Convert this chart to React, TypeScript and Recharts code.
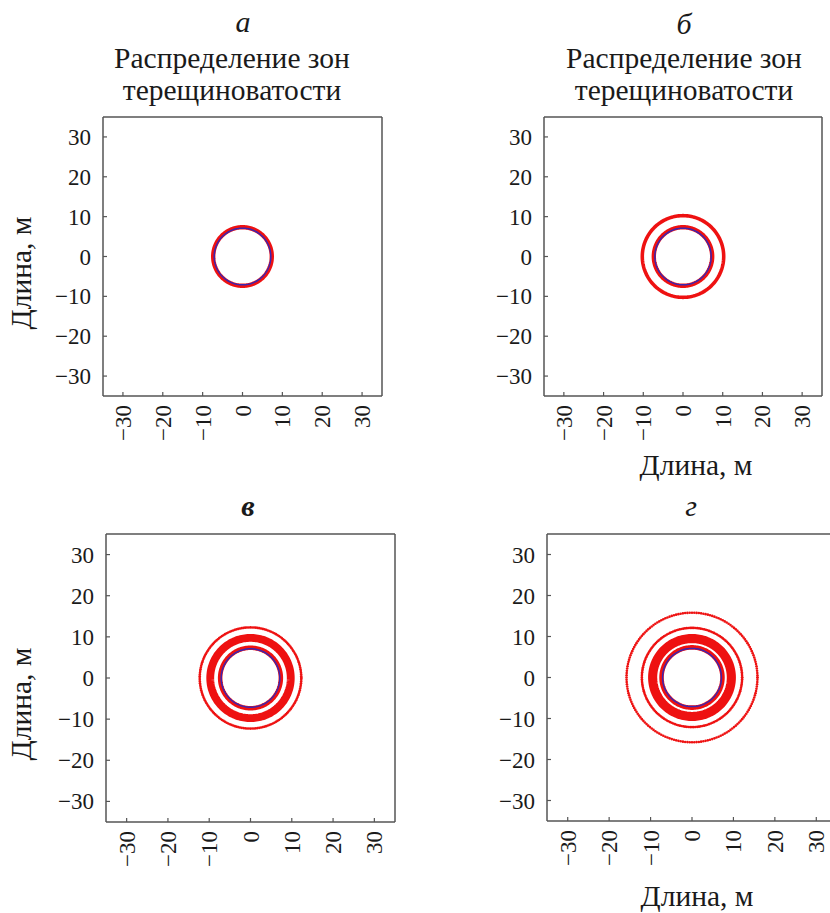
import React from 'react'
import { ScatterChart, Scatter, XAxis, YAxis } from 'recharts'

// axis layout (metres)
const axisTicks = [-30, -20, -10, 0, 10, 20, 30]
const axisMin = -35
const axisMax = 35

// fracture zones: inner / outer radius, m
const zoneInnerA = [6.8]
const zoneOuterA = [7.9]
const zoneInnerB = [6.8, 9.8]
const zoneOuterB = [7.9, 10.7]
const zoneInnerC = [6.8, 8.8]
const zoneOuterC = [7.9, 10.7]
const zoneInnerD = [6.8, 8.4]
const zoneOuterD = [7.9, 10.6]

// thin (single dotted) crack rings, m
const ringsA: number[] = []
const ringsB: number[] = []
const ringsC = [12.3]
const ringsD = [12.1, 15.8]

// excavation contour radius, m
const contourRadius = 7.1

const RED = '#ee1111'
const BLUE = '#3b25b0'
const INK = '#1a1a1a'
const FONT = '"Liberation Serif", "Times New Roman", serif'
const STEP_DEG = 2

// points of a circle of radius r centred at the origin
function circle(r: number) {
  const pts = []
  for (let a = 0; a <= 360; a += STEP_DEG) {
    const t = (a * Math.PI) / 180
    pts.push({ x: r * Math.cos(t), y: r * Math.sin(t) })
  }
  return pts
}

const fmt = (v: number) => (v < 0 ? '\u2212' + Math.abs(v) : String(v))

const XTick = (props: any) => {
  const { x, y, payload } = props
  return (
    <text
      x={x}
      y={y}
      transform={`rotate(-90 ${x} ${y})`}
      textAnchor="end"
      dy="0.35em"
      fontSize={23}
      fontFamily={FONT}
      fill={INK}
    >
      {fmt(payload.value)}
    </text>
  )
}

const YTick = (props: any) => {
  const { x, y, payload } = props
  return (
    <text x={x} y={y} textAnchor="end" dy="0.35em" fontSize={23} fontFamily={FONT} fill={INK}>
      {fmt(payload.value)}
    </text>
  )
}

const NoDot = () => <g />
const Dot = (p: any) => <circle cx={p.cx} cy={p.cy} r={1.3} fill={RED} />

type Box = { left: number; top: number; w: number; h: number }

function Panel({
  box,
  inner,
  outer,
  rings,
}: {
  box: Box
  inner: number[]
  outer: number[]
  rings: number[]
}) {
  const M = 60
  const m = M - 1 // 1px goes to each (thin) axis box
  const pxPerUnit = box.w / (axisMax - axisMin)
  const frame = { stroke: '#555', strokeWidth: 1.5 }
  const tickLine = { stroke: '#555', strokeWidth: 1.2 }

  return (
    <div style={{ position: 'absolute', left: box.left - M, top: box.top - M }}>
      <ScatterChart
        width={box.w + 2 * M}
        height={box.h + 2 * M}
        margin={{ top: m, right: m, bottom: m, left: m }}
      >
        <XAxis
          type="number"
          dataKey="x"
          domain={[axisMin, axisMax]}
          ticks={axisTicks}
          height={1}
          axisLine={frame}
          tickLine={tickLine}
          tickSize={-4}
          tickMargin={13}
          tick={<XTick />}
          interval={0}
        />
        <XAxis
          xAxisId="top"
          orientation="top"
          type="number"
          dataKey="x"
          domain={[axisMin, axisMax]}
          ticks={axisTicks}
          height={1}
          axisLine={frame}
          tickLine={tickLine}
          tickSize={-4}
          tick={false}
        />
        <YAxis
          type="number"
          dataKey="y"
          domain={[axisMin, axisMax]}
          ticks={axisTicks}
          width={1}
          axisLine={frame}
          tickLine={tickLine}
          tickSize={-4}
          tickMargin={16}
          tick={<YTick />}
          interval={0}
        />
        <YAxis
          yAxisId="right"
          orientation="right"
          type="number"
          dataKey="y"
          domain={[axisMin, axisMax]}
          ticks={axisTicks}
          width={1}
          axisLine={frame}
          tickLine={tickLine}
          tickSize={-4}
          tick={false}
        />
        {inner.map((r0, i) => (
          <Scatter
            key={'z' + i}
            data={circle((r0 + outer[i]) / 2)}
            line={{ stroke: RED, strokeWidth: (outer[i] - r0) * pxPerUnit }}
            shape={NoDot}
            isAnimationActive={false}
          />
        ))}
        {rings.map((r, i) => (
          <Scatter key={'r' + i} data={circle(r)} shape={Dot} isAnimationActive={false} />
        ))}
        <Scatter
          data={circle(contourRadius)}
          line={{ stroke: BLUE, strokeWidth: 1.5 }}
          shape={NoDot}
          isAnimationActive={false}
        />
      </ScatterChart>
    </div>
  )
}

const boxA = { left: 103, top: 117, w: 279, h: 279 }
const boxB = { left: 544, top: 117, w: 278, h: 279 }
const boxC = { left: 106, top: 534, w: 289, h: 288 }
const boxD = { left: 547, top: 534, w: 290, h: 287 }

export default function App() {
  const title = { fontSize: 29.5, fontFamily: FONT, fill: INK, textAnchor: 'middle' as const }
  const letter = { ...title, fontSize: 30, fontStyle: 'italic' as const }
  const axisLabel = { ...title, fontSize: 29.5 }

  return (
    <div
      style={{
        position: 'absolute',
        left: 0,
        top: 0,
        width: 830,
        height: 913,
        overflow: 'hidden',
        background: '#fff',
      }}
    >
      <Panel box={boxA} inner={zoneInnerA} outer={zoneOuterA} rings={ringsA} />
      <Panel box={boxB} inner={zoneInnerB} outer={zoneOuterB} rings={ringsB} />
      <Panel box={boxC} inner={zoneInnerC} outer={zoneOuterC} rings={ringsC} />
      <Panel box={boxD} inner={zoneInnerD} outer={zoneOuterD} rings={ringsD} />

      <svg
        width={830}
        height={913}
        style={{ position: 'absolute', left: 0, top: 0, pointerEvents: 'none' }}
      >
        <text x={243} y={32} {...letter}>а</text>
        <text x={232} y={68} {...title}>Распределение зон</text>
        <text x={232} y={100} {...title}>терещиноватости</text>

        <text x={684} y={34} {...letter}>б</text>
        <text x={684} y={68} {...title}>Распределение зон</text>
        <text x={684} y={100} {...title}>терещиноватости</text>

        <text x={248} y={516} {...letter} fontWeight="bold">в</text>
        <text x={691} y={516} {...letter}>г</text>

        <text x={31} y={273} {...axisLabel} transform="rotate(-90 31 273)">Длина, м</text>
        <text x={31} y={704} {...axisLabel} transform="rotate(-90 31 704)">Длина, м</text>
        <text x={696} y={475} {...axisLabel}>Длина, м</text>
        <text x={697} y={906} {...axisLabel}>Длина, м</text>
      </svg>
    </div>
  )
}
